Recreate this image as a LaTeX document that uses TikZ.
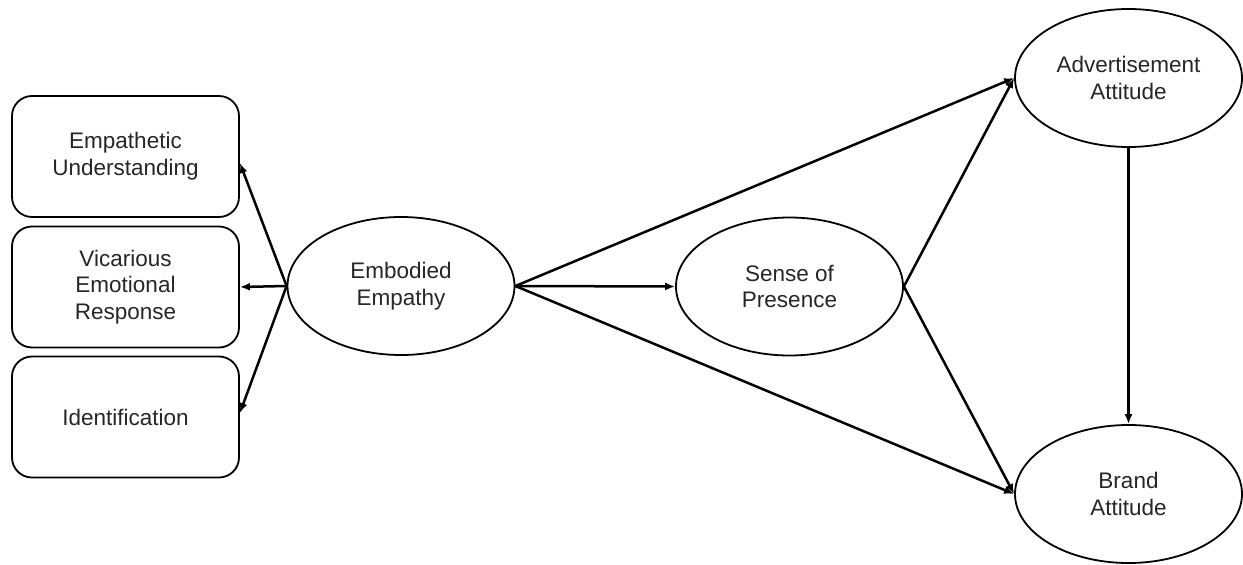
\documentclass[tikz,border=0pt]{standalone}
\usepackage{fontspec}
\setmainfont{Liberation Sans}
\usetikzlibrary{shapes.geometric,arrows.meta}
\begin{document}
\begin{tikzpicture}[x=1pt,y=-1pt,
  lbl/.style={align=center, text=black!85, font=\fontsize{22.5}{26.7}\selectfont},
  box/.style={lbl, draw, line width=1.8pt, rounded corners=20pt, minimum width=227pt, minimum height=121pt, inner sep=0pt},
  ell/.style={lbl, draw, ellipse, line width=1.8pt, minimum width=227pt, minimum height=138pt, inner sep=0pt},
  arr/.style={line width=2.5pt, -{Latex[length=10pt,width=8pt]}}]
\useasboundingbox (0,0) rectangle (1243,565);
\node[box] (eu) at (125.5,156.5) {Empathetic\\Understanding};
\node[box] (ver) at (125.5,287) {Vicarious\\Emotional\\Response};
\node[box] (id) at (125.5,417) {Identification};
\node[ell] (ee) at (401,286) {Embodied\\Empathy};
\node[ell] (sp) at (789.5,286.5) {Sense of\\Presence};
\node[ell] (aa) at (1128.5,78) {Advertisement\\Attitude};
\node[ell] (ba) at (1128.5,494) {Brand\\Attitude};
\draw[arr] (ee.west) -- (eu.east |- 0,163);
\draw[arr] (ee.west) -- (ver.east);
\draw[arr] (ee.west) -- (id.east |- 0,413);
\draw[arr] (ee.east) -- (sp.west);
\draw[arr] (ee.east) -- (aa.west);
\draw[arr] (ee.east) -- (ba.west);
\draw[arr] (sp.east) -- (aa.west);
\draw[arr] (sp.east) -- (ba.west);
\draw[arr] (aa.south) -- (ba.north);
\end{tikzpicture}
\end{document}
